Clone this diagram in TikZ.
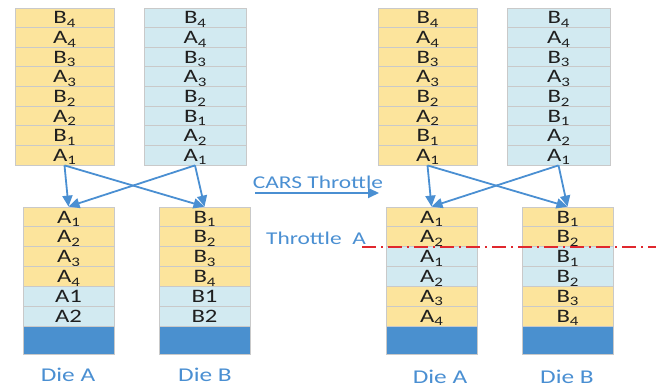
\documentclass[tikz,border=0pt]{standalone}
\usepackage{fontspec}
\setmainfont{Carlito}[FakeStretch=1.3]
\usetikzlibrary{arrows.meta}
\definecolor{cellyellow}{HTML}{FCE49C}
\definecolor{cellblue}{HTML}{D2EAF1}
\definecolor{diebar}{HTML}{4A90CF}
\definecolor{linkblue}{HTML}{4A8FD2}
\definecolor{edgegray}{HTML}{C9C9C9}
\definecolor{cutred}{HTML}{E0282E}
% page label with a lowered index digit
\newcommand{\pg}[2]{#1\raisebox{-3.6pt}{\fontsize{13}{12}\selectfont #2}}
\tikzset{
  cell/.style={draw=edgegray, line width=0.8pt, inner sep=0pt,
    minimum width=#1, text height=12.3pt, text depth=0pt,
    font=\fontsize{19}{19}\selectfont, text=black!88},
  topcell/.style={cell=#1, minimum height=19.625pt},
  lowcell/.style={cell=#1, minimum height=19.83pt},
  diebarbox/.style={draw=edgegray, line width=0.8pt, fill=diebar,
    inner sep=0pt, minimum width=#1, minimum height=28pt},
  link/.style={draw=linkblue, line width=1.8pt,
    -{Triangle[length=11pt,width=10pt]}},
  caption/.style={text=linkblue, font=\fontsize{18}{18}\selectfont, inner sep=0pt},
  diecaption/.style={caption, font=\fontsize{19.5}{19.5}\selectfont},
  cutline/.style={draw=cutred, line width=1.1pt,
    dash pattern=on 14pt off 5pt on 2pt off 5pt}
}
\begin{document}
\begin{tikzpicture}[x=1pt,y=-1pt]
\useasboundingbox (0,0) rectangle (664,388);

% ---- left half: interleaved page stacks ----
\foreach \lab [count=\i] in {\pg B4,\pg A4,\pg B3,\pg A3,\pg B2,\pg A2,\pg B1,\pg A1}
  \node[topcell=99pt, fill=cellyellow] (pa\i) at (64.5,{8+19.625*(\i-0.5)}) {\lab};
\foreach \lab [count=\i] in {\pg B4,\pg A4,\pg B3,\pg A3,\pg B2,\pg B1,\pg A2,\pg A1}
  \node[topcell=102pt, fill=cellblue] (pb\i) at (195,{8+19.625*(\i-0.5)}) {\lab};

% ---- left half: die queues ----
\foreach \lab/\col [count=\i] in {\pg A1/cellyellow,\pg A2/cellyellow,\pg A3/cellyellow,
    \pg A4/cellyellow,A1/cellblue,A2/cellblue}
  \node[lowcell=91pt, fill=\col] (da\i) at (68.5,{207+19.83*(\i-0.5)}) {\lab};
\node[diebarbox=91pt] (da7) at (68.5,340) {};
\foreach \lab/\col [count=\i] in {\pg B1/cellyellow,\pg B2/cellyellow,\pg B3/cellyellow,
    \pg B4/cellyellow,B1/cellblue,B2/cellblue}
  \node[lowcell=91pt, fill=\col] (db\i) at (204.5,{207+19.83*(\i-0.5)}) {\lab};
\node[diebarbox=91pt] (db7) at (204.5,340) {};

\draw[link] (pa8.south) -- (da1.north);
\draw[link] (pa8.south) -- (db1.north);
\draw[link] (pb8.south) -- (da1.north);
\draw[link] (pb8.south) -- (db1.north);

\node[diecaption] (dieA) at (68,375) {Die A};
\node[diecaption] (dieB) at (205,375) {Die B};

% ---- middle: throttle arrow and labels ----
\coordinate (carsFrom) at (255,193);
\coordinate (carsTo) at (379,193);
\draw[link] (carsFrom) -- (carsTo);
\node[caption] (cars) at (318,182) {CARS Throttle};
\node[caption] (thrA) at (316,238) {Throttle\ \ A};

% ---- right half: interleaved page stacks ----
\foreach \lab [count=\i] in {\pg B4,\pg A4,\pg B3,\pg A3,\pg B2,\pg A2,\pg B1,\pg A1}
  \node[topcell=99pt, fill=cellyellow] (qa\i) at (427.5,{8+19.625*(\i-0.5)}) {\lab};
\foreach \lab [count=\i] in {\pg B4,\pg A4,\pg B3,\pg A3,\pg B2,\pg B1,\pg A2,\pg A1}
  \node[topcell=103pt, fill=cellblue] (qb\i) at (558.5,{8+19.625*(\i-0.5)}) {\lab};

% ---- right half: throttled die queues ----
\foreach \lab/\col [count=\i] in {\pg A1/cellyellow,\pg A2/cellyellow,\pg A1/cellblue,
    \pg A2/cellblue,\pg A3/cellyellow,\pg A4/cellyellow}
  \node[lowcell=91pt, fill=\col] (ea\i) at (431.5,{207+19.83*(\i-0.5)}) {\lab};
\node[diebarbox=91pt] (ea7) at (431.5,340) {};
\foreach \lab/\col [count=\i] in {\pg B1/cellyellow,\pg B2/cellyellow,\pg B1/cellblue,
    \pg B2/cellblue,\pg B3/cellyellow,\pg B4/cellyellow}
  \node[lowcell=91pt, fill=\col] (eb\i) at (567.5,{207+19.83*(\i-0.5)}) {\lab};
\node[diebarbox=91pt] (eb7) at (567.5,340) {};

\draw[link] (qa8.south) -- (ea1.north);
\draw[link] (qa8.south) -- (eb1.north);
\draw[link] (qb8.south) -- (ea1.north);
\draw[link] (qb8.south) -- (eb1.north);

\node[diecaption] (dieA2) at (440,377) {Die A};
\node[diecaption] (dieB2) at (567,377) {Die B};

% throttle cut line across both queues
\coordinate (cutFrom) at (362,247);
\coordinate (cutTo) at (656,247);
\draw[cutline] (cutFrom) -- (cutTo);
\end{tikzpicture}
\end{document}
